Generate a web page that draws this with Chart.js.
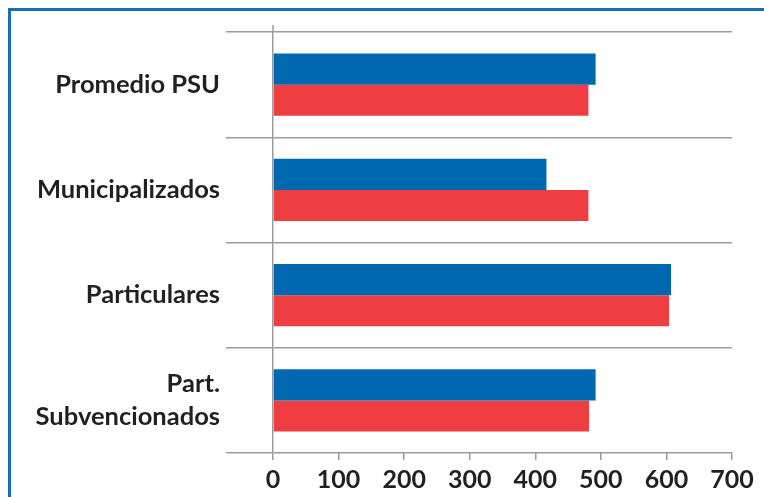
<!DOCTYPE html>
<html>
<head>
<meta charset="utf-8">
<script src="https://cdn.jsdelivr.net/npm/chart.js@4.4.1/dist/chart.umd.min.js"></script>
<style>
    html, body { margin: 0; padding: 0; background: #fff; }
    #wrap { position: relative; width: 764px; height: 497px; }
    #frame {
        position: absolute; left: 8px; top: 8px; right: 0; bottom: 0;
        border-left: 3px solid #1a6db5; border-top: 3px solid #1a6db5;
    }
    canvas { position: absolute; left: 0; top: 0; }
</style>
</head>
<body>
<div id="wrap">
    <div id="frame"></div>
    <canvas id="myBarChart" width="764" height="497"></canvas>
</div>
<script>
    // dados
    const categorias = ['Promedio PSU', 'Municipalizados', 'Particulares', ['Part.', 'Subvencionados']];
    const serieAzul = [492, 417, 607, 492];
    const serieVermelha = [481, 481, 604, 482];
    const xTicks = [0, 100, 200, 300, 400, 500, 600, 700];

    const cinza = '#9b9b9b';
    const texto = '#231f20';

    // prolonga a linha do zero um pouco acima da área
    const zeroLine = {
        id: 'zeroLine',
        afterDraw: function (chart) {
            const ctx = chart.ctx;
            const x = chart.scales.x.getPixelForValue(0);
            ctx.save();
            ctx.strokeStyle = cinza;
            ctx.lineWidth = 1.5;
            ctx.beginPath();
            ctx.moveTo(x, chart.chartArea.top - 7);
            ctx.lineTo(x, chart.chartArea.top);
            ctx.stroke();
            ctx.restore();
        }
    };

    const ctx = document.getElementById('myBarChart').getContext('2d');
    new Chart(ctx, {
        type: 'bar',
        data: {
            labels: categorias,
            datasets: [{
                data: serieAzul,
                backgroundColor: '#0067b1',
                categoryPercentage: 0.59,
                barPercentage: 1
            }, {
                data: serieVermelha,
                backgroundColor: '#ef3e42',
                categoryPercentage: 0.59,
                barPercentage: 1
            }]
        },
        options: {
            indexAxis: 'y',
            responsive: false,
            animation: false,
            layout: { padding: { left: 0, top: 32, right: 32, bottom: 0 } },
            plugins: {
                legend: { display: false },
                tooltip: { enabled: false }
            },
            scales: {
                x: {
                    min: 0,
                    max: 700,
                    afterBuildTicks: function (scale) {
                        scale.ticks = xTicks.map(v => ({ value: v }));
                    },
                    afterFit: function (scale) {
                        scale.height = 44;
                        scale.paddingLeft = 0;
                        scale.paddingRight = 0;
                    },
                    grid: {
                        color: 'rgba(0,0,0,0)',
                        tickColor: cinza,
                        tickLength: 7,
                        lineWidth: 1.5
                    },
                    border: { display: false },
                    ticks: {
                        color: texto,
                        padding: 5,
                        maxRotation: 0,
                        font: { family: 'Lato', size: 25, weight: 'bold' }
                    }
                },
                y: {
                    afterFit: function (scale) {
                        scale.width = 273;
                        scale.paddingTop = 0;
                        scale.paddingBottom = 0;
                    },
                    grid: {
                        offset: true,
                        color: cinza,
                        lineWidth: 1.5,
                        tickLength: 47
                    },
                    border: { display: true, color: cinza, width: 1.5 },
                    ticks: {
                        color: texto,
                        padding: 6,
                        font: { family: 'Lato', size: 25.5, weight: 'bold', lineHeight: 1.3 }
                    }
                }
            }
        },
        plugins: [zeroLine]
    });
</script>
</body>
</html>
